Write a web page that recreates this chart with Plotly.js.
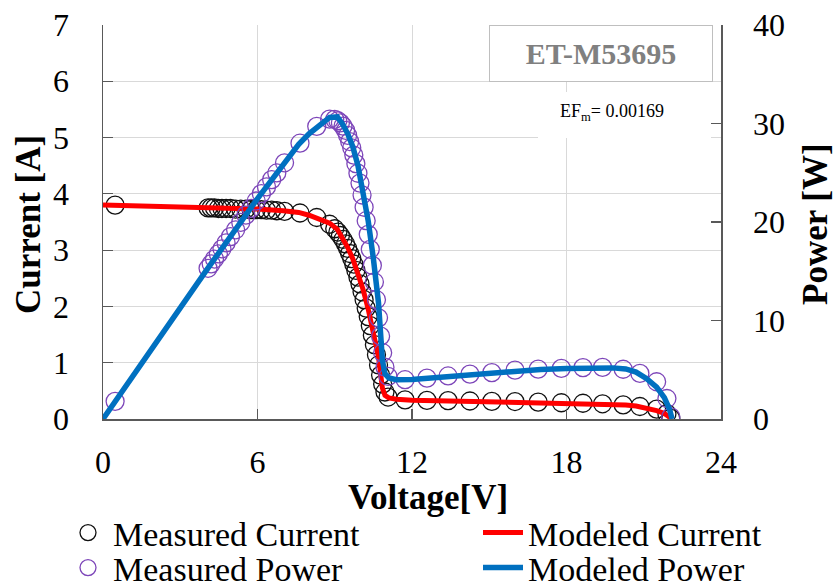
<!DOCTYPE html>
<html><head><meta charset="utf-8">
<script src="https://cdn.plot.ly/plotly-3.0.1.min.js"></script>
<style>html,body{margin:0;padding:0;background:#fff}#chart{width:835px;height:588px}</style>
</head><body><div id="chart"></div>
<script>
// Measured data (voltage V, current A, power W)
const measuredV = [0.47, 4.08, 4.2, 4.33, 4.48, 4.62, 4.78, 4.95, 5.15, 5.35, 5.55, 5.75, 5.95, 6.15, 6.35, 6.55, 6.75, 7.05, 7.65, 8.3, 8.8, 9.0, 9.12, 9.22, 9.32, 9.42, 9.5, 9.58, 9.66, 9.74, 9.82, 9.9, 9.98, 10.06, 10.14, 10.22, 10.3, 10.38, 10.46, 10.54, 10.62, 10.7, 10.78, 10.86, 10.95, 11.07, 11.73, 12.58, 13.4, 14.25, 15.1, 16.0, 16.9, 17.8, 18.64, 19.4, 20.2, 20.85, 21.5, 21.9, 22.05];
const measuredI = [3.80, 3.75, 3.75, 3.75, 3.74, 3.74, 3.74, 3.74, 3.73, 3.73, 3.73, 3.72, 3.72, 3.72, 3.71, 3.71, 3.70, 3.69, 3.66, 3.58, 3.46, 3.38, 3.32, 3.26, 3.19, 3.11, 3.03, 2.94, 2.85, 2.75, 2.64, 2.52, 2.40, 2.26, 2.12, 1.97, 1.82, 1.66, 1.49, 1.32, 1.14, 0.96, 0.78, 0.62, 0.48, 0.39, 0.34, 0.33, 0.326, 0.32, 0.312, 0.31, 0.30, 0.289, 0.28, 0.27, 0.25, 0.222, 0.176, 0.095, 0.01];
const measuredP = [1.79, 15.3, 15.75, 16.24, 16.76, 17.28, 17.88, 18.51, 19.21, 19.96, 20.7, 21.39, 22.13, 22.88, 23.56, 24.3, 24.98, 26.01, 28.0, 29.71, 30.45, 30.42, 30.28, 30.06, 29.73, 29.3, 28.79, 28.17, 27.53, 26.79, 25.92, 24.95, 23.95, 22.74, 21.5, 20.13, 18.75, 17.23, 15.59, 13.91, 12.11, 10.27, 8.41, 6.73, 5.26, 4.32, 3.99, 4.15, 4.37, 4.56, 4.71, 4.96, 5.07, 5.14, 5.22, 5.24, 5.05, 4.63, 3.78, 2.08, 0.22];

// Modeled data
const modelV = [0, 2, 4, 6, 7, 7.6, 8.0, 8.4, 8.8, 9.1, 9.3, 9.5, 9.7, 9.9, 10.1, 10.3, 10.5, 10.7, 10.85, 10.95, 11.1, 11.4, 12, 13, 14, 15, 16, 17, 18, 19, 19.8, 20.3, 20.7, 21.1, 21.5, 21.8, 22.0, 22.1];
const modelI = [3.80, 3.78, 3.76, 3.73, 3.70, 3.67, 3.62, 3.55, 3.48, 3.37, 3.22, 3.05, 2.85, 2.6, 2.3, 1.95, 1.55, 1.1, 0.55, 0.42, 0.375, 0.35, 0.335, 0.325, 0.318, 0.31, 0.303, 0.296, 0.285, 0.274, 0.262, 0.25, 0.23, 0.195, 0.15, 0.1, 0.045, 0.0];
const modelP = [0, 7.56, 15.04, 22.38, 25.9, 27.89, 28.96, 29.82, 30.62, 30.67, 29.95, 28.98, 27.65, 25.74, 23.23, 20.09, 16.28, 11.77, 5.97, 4.6, 4.16, 3.99, 4.02, 4.23, 4.45, 4.65, 4.85, 5.03, 5.13, 5.21, 5.19, 5.08, 4.76, 4.11, 3.23, 2.18, 0.99, 0];

// Text labels
const xTitle = 'Voltage[V]';
const yTitle = 'Current [A]';
const y2Title = 'Power [W]';
const boxLabel = 'ET-M53695';
const efLabel = 'EF<sub>m</sub>= 0.00169';

const FONT = '"Liberation Serif", "Times New Roman", serif';
const AX = '#595959';

const traces = [
  {type:'scatter', mode:'markers', name:'Measured Current', x:measuredV, y:measuredI, yaxis:'y', legend:'legend',
   marker:{symbol:'circle-open', size:18, color:'#111111', line:{width:1.3}}},
  {type:'scatter', mode:'lines', name:'Modeled Current', x:modelV, y:modelI, yaxis:'y', legend:'legend2',
   line:{color:'#ff0000', width:5}},
  {type:'scatter', mode:'markers', name:'Measured Power', x:measuredV, y:measuredP, yaxis:'y2', legend:'legend3',
   marker:{symbol:'circle-open', size:18, color:'#7D46B9', line:{width:1.3}}},
  {type:'scatter', mode:'lines', name:'Modeled Power', x:modelV, y:modelP, yaxis:'y2', legend:'legend4',
   line:{color:'#0070C0', width:5.5}}
];

const P = v => (v - 103) / 618;
const Q = v => (419 - v) / 394;

function leg(px, py) {
  return {orientation:'v', xref:'container', yref:'container', x:px/835, y:1-py/588, xanchor:'left', yanchor:'middle',
    font:{size:34, family:FONT}, itemwidth:40, bgcolor:'rgba(0,0,0,0)', borderwidth:0};
}

const layout = {
  width:835, height:588,
  margin:{l:103, r:114, t:25, b:169, autoexpand:false},
  paper_bgcolor:'#ffffff', plot_bgcolor:'#ffffff',
  font:{family:FONT, color:'#000000'},
  showlegend:true,
  xaxis:{range:[0,24], tick0:0, dtick:6, ticks:'inside', ticklen:10, tickcolor:AX, tickwidth:1.2,
    showline:true, linecolor:AX, linewidth:1.5, showgrid:true, gridcolor:'#d9d9d9', gridwidth:1,
    zeroline:false, tickfont:{size:32, family:FONT}, ticklabelstandoff:14, automargin:false, fixedrange:true,
    title:{text:''}},
  yaxis:{range:[0,7], tick0:0, dtick:1, ticks:'inside', ticklen:10, tickcolor:AX, tickwidth:1.2,
    showline:true, linecolor:AX, linewidth:1.5, showgrid:true, gridcolor:'#d9d9d9', gridwidth:1,
    zeroline:false, tickfont:{size:32, family:FONT}, ticklabelstandoff:26, automargin:false, fixedrange:true,
    title:{text:''}},
  yaxis2:{range:[0,40], tick0:0, dtick:10, overlaying:'y', side:'right', ticks:'inside', ticklen:10, tickcolor:AX, tickwidth:1.2,
    showline:true, linecolor:AX, linewidth:1.5, showgrid:false, zeroline:false,
    tickfont:{size:32, family:FONT}, ticklabelstandoff:24, automargin:false, fixedrange:true,
    title:{text:''}},
  legend:leg(63, 533),
  legend2:leg(478, 533),
  legend3:leg(63, 568),
  legend4:leg(478, 568),
  shapes:[
    {type:'rect', xref:'paper', yref:'paper', x0:P(538), x1:P(711), y0:Q(138), y1:Q(92),
     fillcolor:'#ffffff', line:{width:0}, layer:'above'}
  ],
  annotations:[
    {xref:'paper', yref:'paper', x:P(428), y:Q(497), xanchor:'center', yanchor:'middle', showarrow:false,
     text:'<b>' + xTitle + '</b>', font:{size:35, family:FONT, color:'#000000'}},
    {xref:'paper', yref:'paper', x:P(28), y:Q(225), xanchor:'center', yanchor:'middle', showarrow:false, textangle:-90,
     text:'<b>' + yTitle + '</b>', font:{size:35, family:FONT, color:'#000000'}},
    {xref:'paper', yref:'paper', x:P(815), y:Q(224), xanchor:'center', yanchor:'middle', showarrow:false, textangle:-90,
     text:'<b>' + y2Title + '</b>', font:{size:35, family:FONT, color:'#000000'}},
    {xref:'paper', yref:'paper', x:P(601), y:Q(53.5), xanchor:'center', yanchor:'middle', showarrow:false,
     text:'<b>' + boxLabel + '</b>', font:{size:30, family:FONT, color:'#808080'},
     bgcolor:'#ffffff', bordercolor:'#bfbfbf', borderwidth:1, borderpad:0, width:222, height:55},
    {xref:'paper', yref:'paper', x:P(612), y:Q(112), xanchor:'center', yanchor:'middle', showarrow:false,
     text:efLabel, font:{size:18, family:FONT, color:'#000000'}}
  ]
};

Plotly.newPlot('chart', traces, layout, {staticPlot:true, displayModeBar:false});
</script>
</body></html>
